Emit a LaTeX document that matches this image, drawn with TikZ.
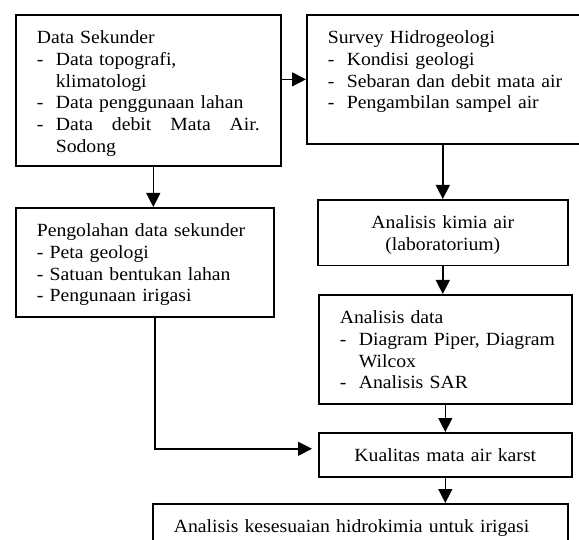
\documentclass[tikz,border=0pt]{standalone}
\usepackage{fontspec}
\setmainfont[FakeStretch=1.06]{Liberation Serif}
\usetikzlibrary{arrows.meta, positioning}
\newcommand{\itm}[1]{\makebox[19pt][l]{-}\mbox{#1}}

\begin{document}
\begin{tikzpicture}[
    x=1pt, y=-1pt,
    >={Triangle[length=14pt, width=14pt]},
    box/.style={draw=black, line width=1.6pt, anchor=north west, inner xsep=21pt, inner ysep=0pt,
        align=left, font=\fontsize{18.6pt}{21.7pt}\selectfont,
        execute at begin node={\rule{0pt}{29pt}},
        execute at end node={\rule[-#1]{0pt}{#1}}},
    box/.default=15pt,
    flow/.style={draw=black, line width=1.4pt, ->}
]
\useasboundingbox (0,0) rectangle (579,540);

% ==================== DATA SEKUNDER ====================
\node[box=13.5pt, text width=223pt] (sekunder) at (15,14) {Data Sekunder\\
    \itm{Data topografi,}\\
    \hspace*{19pt}klimatologi\\
    \itm{Data penggunaan lahan}\\
    \makebox[19pt][l]{-}\makebox[204pt][l]{Data\hfill debit\hfill Mata\hfill Air.}\\
    \hspace*{19pt}Sodong};

% ==================== SURVEY ====================
\node[box=35pt, text width=258pt] (survey) at (306,14) {Survey Hidrogeologi\\
    \itm{Kondisi geologi}\\
    \itm{Sebaran dan debit mata air}\\
    \itm{Pengambilan sampel air}};
\draw[flow] (sekunder.east |- survey.west) -- (survey.west);

% ==================== PENGOLAHAN ====================
\node[box, text width=216pt] (olah) at (15,207) {Pengolahan data sekunder\\
    - Peta geologi\\
    - Satuan bentukan lahan\\
    - Pengunaan irigasi};
\draw[flow] ([xshift=5pt]sekunder.south) -- ([xshift=5pt]sekunder.south |- olah.north);

% ==================== KIMIA AIR ====================
\node[box, text width=208pt, align=center] (kimia) at (317,199) {Analisis kimia air\\(laboratorium)};
\draw[flow] (kimia.north |- survey.south) -- (kimia.north);

% ==================== ANALISIS DATA ====================
\node[box, text width=211pt] (analisis) at (318,294) {Analisis data\\
    \itm{Diagram Piper, Diagram}\\
    \hspace*{19pt}Wilcox\\
    \itm{Analisis SAR}};
\draw[flow] (kimia.south) -- (kimia.south |- analisis.north);

% ==================== KUALITAS ====================
\node[box, text width=211pt, align=center] (kualitas) at (318,432) {Kualitas mata air karst};
\draw[flow] (analisis.south) -- (kualitas.north);
\draw[flow, shorten >=6pt] ([xshift=10pt]olah.south) |- ([yshift=6pt]kualitas.west);

% ==================== KESESUAIAN ====================
\node[box, text width=373pt] (sesuai) at (152,503) {Analisis kesesuaian hidrokimia untuk irigasi};
\draw[flow] (kualitas.south) -- (kualitas.south |- sesuai.north);

\end{tikzpicture}
\end{document}
